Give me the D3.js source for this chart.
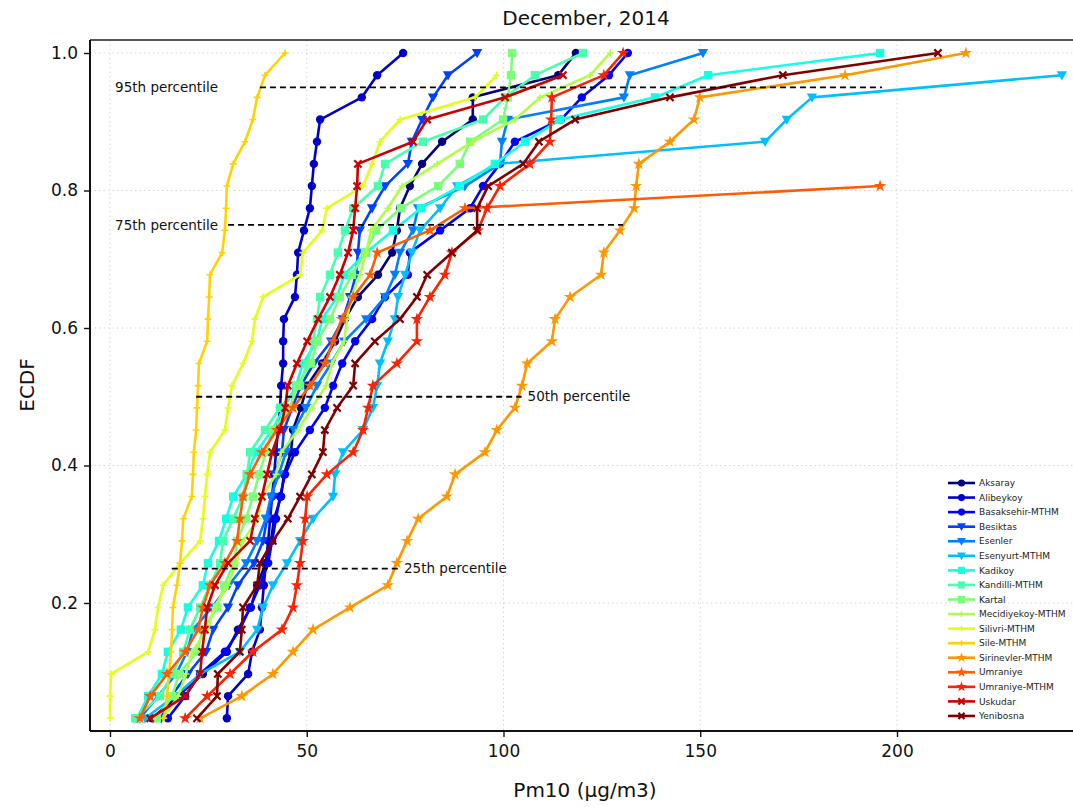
<!DOCTYPE html>
<html>
<head>
<meta charset="utf-8">
<script src="https://cdn.jsdelivr.net/npm/d3@7"></script>
<style>
  html, body { margin: 0; padding: 0; background: #fff; }
  svg { display: block; font-family: "DejaVu Sans", sans-serif; }
</style>
</head>
<body>
<svg id="chart" width="1073" height="807"></svg>
<script>
// Daily PM10 ECDF per station, December 2014 (31 days; missing days leave a series short of 1.0)
const nDays = 31;

const stations = [
  "Aksaray", "Alibeykoy", "Basaksehir-MTHM", "Besiktas", "Esenler", "Esenyurt-MTHM",
  "Kadikoy", "Kandilli-MTHM", "Kartal", "Mecidiyekoy-MTHM", "Silivri-MTHM", "Sile-MTHM",
  "Sirinevler-MTHM", "Umraniye", "Umraniye-MTHM", "Uskudar", "Yenibosna"
];

// sorted daily PM10 values (µg/m3) for each station
const aksaray = [10.7, 17.3, 23.6, 29.7, 32.5, 35.8, 37.4, 39.6, 40.9, 41.7, 43.5, 44.2, 46.0, 46.5, 48.5, 50.1, 53.9, 57.2, 59.7, 63.0, 68.1, 71.7, 72.9, 73.7, 76.2, 79.3, 84.4, 92.2, 92.2, 113.9, 118.4];
const alibeykoy = [29.7, 30.0, 35.1, 36.1, 38.1, 38.6, 39.1, 39.6, 40.2, 40.7, 41.2, 41.7, 42.2, 42.7, 43.2, 43.5, 44.0, 44.0, 44.2, 47.0, 47.5, 47.8, 49.3, 50.8, 51.3, 51.8, 52.6, 53.4, 64.0, 67.9, 74.5];
const basaksehir = [14.7, 19.1, 22.9, 29.2, 33.0, 35.6, 38.1, 40.2, 41.2, 42.2, 43.2, 44.5, 47.0, 50.8, 54.6, 56.7, 59.0, 62.3, 66.6, 69.9, 75.7, 76.2, 83.9, 91.5, 94.8, 99.1, 102.9, 114.6, 119.9, 126.8, 131.6];
const besiktas = [13.0, 15.5, 19.8, 24.4, 26.2, 30.0, 32.5, 36.6, 38.9, 39.9, 41.4, 41.9, 43.7, 44.2, 46.3, 48.5, 51.8, 56.2, 59.2, 61.0, 62.5, 63.0, 63.5, 66.6, 69.9, 75.7, 76.7, 79.3, 82.1, 85.9, 93.3];
const esenler = [7.6, 12.2, 16.8, 19.6, 21.1, 25.9, 30.2, 34.6, 37.4, 39.6, 40.9, 42.9, 44.7, 46.8, 49.8, 52.6, 56.2, 59.5, 65.1, 69.9, 72.4, 73.7, 77.0, 78.3, 90.2, 99.1, 99.6, 101.1, 130.6, 132.1, 150.7];
const esenyurt = [8.9, 16.5, 22.9, 33.0, 37.4, 38.9, 41.4, 45.0, 48.3, 51.6, 56.7, 57.2, 59.2, 64.3, 66.8, 67.9, 68.6, 70.6, 72.4, 73.2, 75.0, 76.7, 78.8, 83.9, 88.2, 98.3, 166.5, 172.0, 178.4, 241.9];
const kadikoy = [6.9, 9.7, 13.2, 14.7, 18.0, 19.8, 23.6, 24.9, 27.7, 29.5, 31.3, 34.8, 37.1, 41.2, 44.2, 47.3, 49.0, 52.6, 53.9, 57.7, 59.5, 65.1, 71.9, 79.0, 88.9, 97.8, 105.5, 114.4, 138.5, 152.0, 195.7];
const kandilli = [6.4, 12.7, 15.8, 18.6, 20.3, 22.9, 25.4, 28.0, 28.7, 31.3, 33.8, 34.8, 35.6, 39.4, 43.2, 48.3, 50.1, 51.6, 52.6, 53.4, 55.9, 57.9, 59.7, 61.8, 68.1, 69.9, 79.5, 94.8, 100.4, 108.0, 120.2];
const kartal = [11.9, 15.8, 17.5, 22.1, 23.6, 27.2, 29.0, 31.5, 32.3, 34.6, 36.3, 37.9, 39.6, 41.4, 45.7, 47.5, 51.1, 52.6, 55.9, 58.4, 61.5, 64.8, 67.6, 73.9, 83.4, 88.9, 91.5, 99.9, 101.1, 101.9, 102.2];
const mecidiyekoy = [13.5, 17.3, 19.3, 20.8, 24.9, 26.4, 30.0, 32.0, 33.8, 37.6, 38.6, 42.2, 43.5, 47.8, 51.3, 54.9, 56.4, 59.5, 60.2, 61.3, 63.5, 65.1, 66.3, 70.6, 74.2, 83.1, 92.2, 102.9, 109.3, 122.0, 127.1];
const silivri = [0.0, 0.0, 0.3, 9.7, 11.4, 12.2, 13.5, 17.8, 22.9, 23.6, 24.1, 24.7, 25.4, 29.2, 30.0, 31.0, 33.8, 36.1, 36.8, 38.9, 48.3, 49.0, 53.9, 55.1, 64.3, 66.6, 68.6, 73.7, 92.8, 98.3];
const sile = [13.7, 14.5, 15.0, 15.5, 15.8, 16.0, 17.0, 17.8, 18.3, 18.6, 20.8, 21.1, 21.3, 21.9, 22.1, 22.4, 22.6, 24.7, 24.9, 25.2, 25.4, 28.5, 29.2, 29.5, 29.7, 31.3, 34.3, 36.3, 37.4, 39.4, 44.5];
const sirinevler = [22.9, 33.5, 41.4, 46.5, 51.6, 61.0, 70.6, 72.9, 75.5, 78.3, 85.6, 87.7, 95.3, 98.3, 102.9, 104.7, 106.0, 112.3, 113.1, 116.9, 124.8, 125.5, 129.6, 133.2, 133.7, 134.4, 142.3, 148.4, 149.9, 186.8, 217.5];
const umraniye = [7.6, 10.2, 14.5, 19.1, 22.4, 23.6, 25.4, 29.2, 32.3, 33.0, 33.8, 35.6, 38.6, 42.4, 46.5, 50.8, 54.6, 56.7, 59.0, 61.8, 66.1, 67.9, 81.3, 90.2, 195.7];
const umraniyeMthm = [19.1, 24.7, 30.5, 36.3, 43.7, 46.5, 47.5, 48.3, 49.0, 49.6, 50.1, 55.1, 61.8, 64.3, 65.6, 66.8, 72.9, 78.0, 78.0, 81.3, 85.1, 86.9, 93.5, 95.8, 99.1, 106.7, 111.8, 112.1, 112.3, 125.5, 130.4];
const uskudar = [10.2, 19.1, 22.9, 23.4, 24.1, 24.7, 26.7, 30.0, 35.6, 36.8, 38.6, 39.9, 41.2, 43.2, 44.5, 45.2, 47.5, 50.1, 52.9, 55.9, 58.4, 60.5, 61.8, 62.3, 62.8, 63.0, 77.0, 80.6, 100.4, 115.1];
const yenibosna = [22.1, 27.2, 27.4, 33.0, 33.5, 33.8, 37.4, 38.1, 41.4, 45.2, 48.3, 51.3, 54.1, 54.6, 57.7, 61.8, 62.3, 67.3, 73.7, 78.0, 80.6, 86.9, 93.3, 93.3, 96.1, 105.0, 109.0, 118.2, 142.3, 171.0, 210.4];

const seriesValues = [aksaray, alibeykoy, basaksehir, besiktas, esenler, esenyurt,
  kadikoy, kandilli, kartal, mecidiyekoy, silivri, sile,
  sirinevler, umraniye, umraniyeMthm, uskudar, yenibosna];

// percentile guide lines: level, and the spread of that percentile across stations (µg/m3)
const percentiles = [25, 50, 75, 95];
const pctLow = [15.7, 21.9, 30.0, 38.1];
const pctHigh = [73.2, 104.6, 130.4, 196.2];

const xTicks = [0, 50, 100, 150, 200];
const yTicks = [0.2, 0.4, 0.6, 0.8, 1.0];

// jet colormap steps and marker shapes per station
const palette = ["#000080", "#0000c8", "#0000ff", "#0040ff", "#0080ff", "#00bfff",
  "#15ffe2", "#48ffaf", "#7bff7b", "#afff48", "#e2ff15", "#ffd200",
  "#ff9700", "#ff5c00", "#ff2100", "#c80000", "#800000"];
const markerKind = ["o", "o", "o", "v", "v", "v", "s", "s", "s", "+", "+", "+", "*", "*", "*", "x", "x"];

const svg = d3.select("#chart");
const W = 1073, H = 807;
const plot = { left: 90, top: 40, right: 1073, bottom: 731 };

const x = d3.scaleLinear().domain([0, 200]).range([110, 897]);
const y = d3.scaleLinear().domain([0, 1]).range([740.5, 53]);

svg.append("rect").attr("width", W).attr("height", H).attr("fill", "#fff");

svg.append("defs").append("clipPath").attr("id", "plotClip")
  .append("rect")
  .attr("x", plot.left).attr("y", plot.top)
  .attr("width", plot.right - plot.left).attr("height", plot.bottom - plot.top);

// dotted grid
const grid = svg.append("g").attr("stroke", "#d6d6d6").attr("stroke-width", 1).attr("stroke-dasharray", "1.5,3");
grid.selectAll("line.gx").data(xTicks).join("line")
  .attr("x1", d => x(d)).attr("x2", d => x(d))
  .attr("y1", plot.top).attr("y2", plot.bottom);
grid.selectAll("line.gy").data(yTicks).join("line")
  .attr("x1", plot.left).attr("x2", plot.right)
  .attr("y1", d => y(d)).attr("y2", d => y(d));

// axes
const xAxis = d3.axisBottom(x).tickValues(xTicks).tickFormat(d3.format("d")).tickSize(6).tickPadding(8);
const yAxis = d3.axisLeft(y).tickValues(yTicks).tickFormat(d3.format(".1f")).tickSize(6).tickPadding(6);

const gx = svg.append("g").attr("transform", `translate(0,${plot.bottom})`).call(xAxis);
gx.select(".domain").remove();
gx.selectAll(".tick line").attr("stroke", "#111").attr("stroke-width", 1.4);
gx.selectAll(".tick text").attr("font-size", 17).attr("fill", "#111").attr("font-family", "DejaVu Sans");

const gy = svg.append("g").attr("transform", `translate(${plot.left},0)`).call(yAxis);
gy.select(".domain").remove();
gy.selectAll(".tick line").attr("stroke", "#111").attr("stroke-width", 1.4);
gy.selectAll(".tick text").attr("font-size", 17).attr("fill", "#111").attr("font-family", "DejaVu Sans");

// spines
svg.append("line").attr("x1", plot.left).attr("x2", plot.right).attr("y1", plot.top).attr("y2", plot.top)
  .attr("stroke", "#555").attr("stroke-width", 2);
svg.append("line").attr("x1", plot.left).attr("x2", plot.right).attr("y1", plot.bottom).attr("y2", plot.bottom)
  .attr("stroke", "#111").attr("stroke-width", 2);
svg.append("line").attr("x1", plot.left).attr("x2", plot.left).attr("y1", plot.top).attr("y2", plot.bottom)
  .attr("stroke", "#111").attr("stroke-width", 2);

// marker drawing
function drawMarker(g, kind, color, cx, cy, scale) {
  const s = scale || 1;
  if (kind === "o") {
    g.append("circle").attr("cx", cx).attr("cy", cy).attr("r", 4.2 * s).attr("fill", color);
  } else if (kind === "v") {
    const a = 5.2 * s;
    g.append("path").attr("d", `M${cx - a},${cy - a * 0.75}L${cx + a},${cy - a * 0.75}L${cx},${cy + a}Z`).attr("fill", color);
  } else if (kind === "s") {
    const a = 4.2 * s;
    g.append("rect").attr("x", cx - a).attr("y", cy - a).attr("width", 2 * a).attr("height", 2 * a).attr("fill", color);
  } else if (kind === "+") {
    const a = 3.4 * s;
    g.append("path").attr("d", `M${cx - a},${cy}L${cx + a},${cy}M${cx},${cy - a}L${cx},${cy + a}`)
      .attr("stroke", color).attr("stroke-width", 1.6).attr("fill", "none");
  } else if (kind === "*") {
    g.append("path").attr("transform", `translate(${cx},${cy})`)
      .attr("d", d3.symbol().type(d3.symbolStar).size(48 * s * s)()).attr("fill", color);
  } else if (kind === "x") {
    const a = 3.6 * s;
    g.append("path").attr("d", `M${cx - a},${cy - a}L${cx + a},${cy + a}M${cx - a},${cy + a}L${cx + a},${cy - a}`)
      .attr("stroke", color).attr("stroke-width", 2.2).attr("fill", "none");
  }
}

// ECDF lines
const plotG = svg.append("g").attr("clip-path", "url(#plotClip)");
const line = d3.line().x(d => x(d[0])).y(d => y(d[1]));

seriesValues.forEach((vals, i) => {
  const pts = vals.map((v, k) => [v, (k + 1) / nDays]);
  const g = plotG.append("g");
  g.append("path").datum(pts).attr("d", line)
    .attr("fill", "none").attr("stroke", palette[i]).attr("stroke-width", 2.6)
    .attr("stroke-linejoin", "round").attr("stroke-linecap", "round");
  pts.forEach(p => drawMarker(g, markerKind[i], palette[i], x(p[0]), y(p[1]), 1));
});

// percentile guides
const pg = svg.append("g");
percentiles.forEach((p, i) => {
  const yy = y(p / 100);
  pg.append("line")
    .attr("x1", x(pctLow[i])).attr("x2", x(pctHigh[i]))
    .attr("y1", yy).attr("y2", yy)
    .attr("stroke", "#000").attr("stroke-width", 1.8).attr("stroke-dasharray", "6,4");
  const label = `${p}th percentile`;
  const onLeft = p >= 75;
  pg.append("text")
    .attr("x", onLeft ? x(1.3) : x(pctHigh[i]) + 6)
    .attr("y", yy).attr("dy", "0.35em")
    .attr("font-size", 13.5).attr("fill", "#111")
    .text(label);
});

// legend
const lg = svg.append("g").attr("transform", "translate(948,483)");
stations.forEach((name, i) => {
  const row = lg.append("g").attr("transform", `translate(0,${i * 14.56})`);
  row.append("line").attr("x1", 0).attr("x2", 27).attr("y1", 0).attr("y2", 0)
    .attr("stroke", palette[i]).attr("stroke-width", 2.6);
  drawMarker(row, markerKind[i], palette[i], 13.5, 0, 0.85);
  row.append("text").attr("x", 31).attr("y", 0).attr("dy", "0.35em")
    .attr("font-size", 9).attr("fill", "#222").text(name);
});

// titles
svg.append("text").attr("x", 586).attr("y", 25).attr("text-anchor", "middle")
  .attr("font-size", 20).attr("fill", "#111").text("December, 2014");
svg.append("text").attr("x", 585).attr("y", 797).attr("text-anchor", "middle")
  .attr("font-size", 20).attr("fill", "#111").text("Pm10 (µg/m3)");
svg.append("text").attr("transform", "translate(34,385) rotate(-90)").attr("text-anchor", "middle")
  .attr("font-size", 20).attr("fill", "#111").text("ECDF");
</script>
</body>
</html>
